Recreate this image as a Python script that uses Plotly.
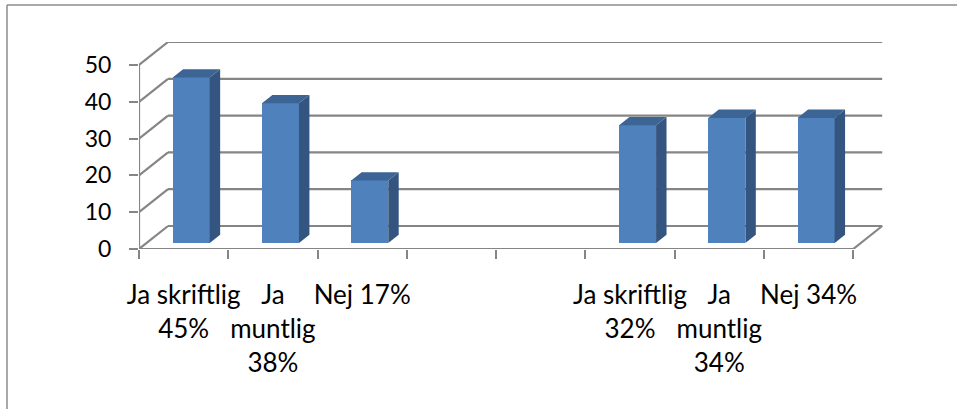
import plotly.graph_objects as go

# Survey answers, two groups of three columns separated by two empty slots
categories = ["Ja skriftlig 45%", "Ja muntlig 38%", "Nej 17%", "", "",
              "Ja skriftlig 32%", "Ja muntlig 34%", "Nej 34%"]
tick_labels = ["Ja skriftlig<br>45%", "Ja<br>muntlig<br>38%", "Nej 17%", "", "",
               "Ja skriftlig<br>32%", "Ja<br>muntlig<br>34%", "Nej 34%"]
values = [45, 38, 17, None, None, 32, 34, 34]
y_ticks = [0, 10, 20, 30, 40, 50]

# Oblique 3D projection: depth of the floor expressed in axis units
DEPTH_X = 0.325   # category units
DEPTH_Y = 6.25    # value units
BAR_FRONT, BAR_BACK = 0.26, 0.62   # bar placement as a fraction of depth
BAR_W = 0.415

FRONT = "#4F81BD"
SIDE = "#34557F"
TOP = "#3C6494"
GRID = "#858585"

n = len(categories)
y_max = max(y_ticks)

fig = go.Figure()

# front faces of the columns, plus their side and top faces
bx, by, bb = [], [], []
side_x, side_y, top_x, top_y = [], [], [], []
ddx = (BAR_BACK - BAR_FRONT) * DEPTH_X
ddy = (BAR_BACK - BAR_FRONT) * DEPTH_Y
base = BAR_FRONT * DEPTH_Y
for i, v in enumerate(values):
    if v is None:
        continue
    cx = i + 0.5 + BAR_FRONT * DEPTH_X
    bx.append(cx)
    by.append(v)
    bb.append(base)
    x0, x1 = cx - BAR_W / 2, cx + BAR_W / 2
    top = base + v
    side_x += [x1, x1 + ddx, x1 + ddx, x1, x1, None]
    side_y += [base, base + ddy, top + ddy, top, base, None]
    top_x += [x0, x1, x1 + ddx, x0 + ddx, x0, None]
    top_y += [top, top, top + ddy, top + ddy, top, None]

fig.add_trace(go.Bar(x=bx, y=by, base=bb, width=BAR_W,
                     marker=dict(color=FRONT, line=dict(width=0)),
                     hoverinfo="skip", showlegend=False))
fig.add_trace(go.Scatter(x=side_x, y=side_y, mode="lines", fill="toself",
                         fillcolor=SIDE, line=dict(width=0, color=SIDE),
                         hoverinfo="skip", showlegend=False))
fig.add_trace(go.Scatter(x=top_x, y=top_y, mode="lines", fill="toself",
                         fillcolor=TOP, line=dict(width=0, color=TOP),
                         hoverinfo="skip", showlegend=False))

# walls and floor
shapes = []
def seg(xa, ya, xb, yb):
    shapes.append(dict(type="line", xref="x", yref="y", x0=xa, y0=ya, x1=xb, y1=yb,
                       line=dict(color=GRID, width=2.2), layer="below"))

for t in y_ticks:
    seg(DEPTH_X, t + DEPTH_Y, n + DEPTH_X, t + DEPTH_Y)   # back wall gridline
    seg(0, t, DEPTH_X, t + DEPTH_Y)                       # side wall diagonal
seg(0, 0, 0, y_max)                                       # front edge of side wall
seg(0, 0, n, 0)                                           # front edge of floor
seg(n, 0, n + DEPTH_X, DEPTH_Y)                           # right edge of floor

# chart area border: left and top edges
PLOT_W, PLOT_H, ML, MT = 745, 207, 139, 42
bx0 = (7 - ML) / PLOT_W
by0 = 1 + (MT - 5) / PLOT_H
for e in [dict(x0=bx0, y0=by0, x1=2, y1=by0), dict(x0=bx0, y0=by0, x1=bx0, y1=-2)]:
    shapes.append(dict(type="line", xref="paper", yref="paper",
                       line=dict(color="#8C8C8C", width=1.5), layer="below", **e))

x_range = [0, n + DEPTH_X + 0.02]
fig.update_layout(
    width=957, height=409,
    margin=dict(l=ML, r=957 - ML - PLOT_W, t=MT, b=409 - MT - PLOT_H, autoexpand=False),
    paper_bgcolor="white", plot_bgcolor="white",
    shapes=shapes,
    bargap=0,
    showlegend=False,
    font=dict(family="Lato, Carlito, Calibri, sans-serif", color="black"),
    xaxis=dict(range=x_range, tickmode="array", tickvals=list(range(n + 1)),
               ticktext=[""] * (n + 1), ticks="outside", ticklen=9, tickwidth=2,
               tickcolor=GRID, showgrid=False, zeroline=False, showline=False,
               fixedrange=True),
    xaxis2=dict(range=x_range, overlaying="x", anchor="y", side="bottom",
                tickmode="array", tickvals=[i + 0.5 for i in range(n)],
                ticktext=tick_labels, ticks="", tickangle=0, showgrid=False,
                zeroline=False, showline=False,
                tickfont=dict(size=26, color="black"),
                ticklabelstandoff=28, fixedrange=True),
    yaxis=dict(range=[0, PLOT_H / 3.68], tickmode="array", tickvals=y_ticks,
               ticks="outside", ticklen=9, tickwidth=2, tickcolor=GRID,
               showgrid=False, zeroline=False, showline=False,
               tickfont=dict(size=23, color="black"), ticklabelstandoff=13,
               fixedrange=True),
)
# invisible trace so the label axis is drawn
fig.add_trace(go.Scatter(x=[0.5], y=[0], xaxis="x2", mode="markers",
                         marker=dict(opacity=0), hoverinfo="skip", showlegend=False))

fig.write_html("out.html")
